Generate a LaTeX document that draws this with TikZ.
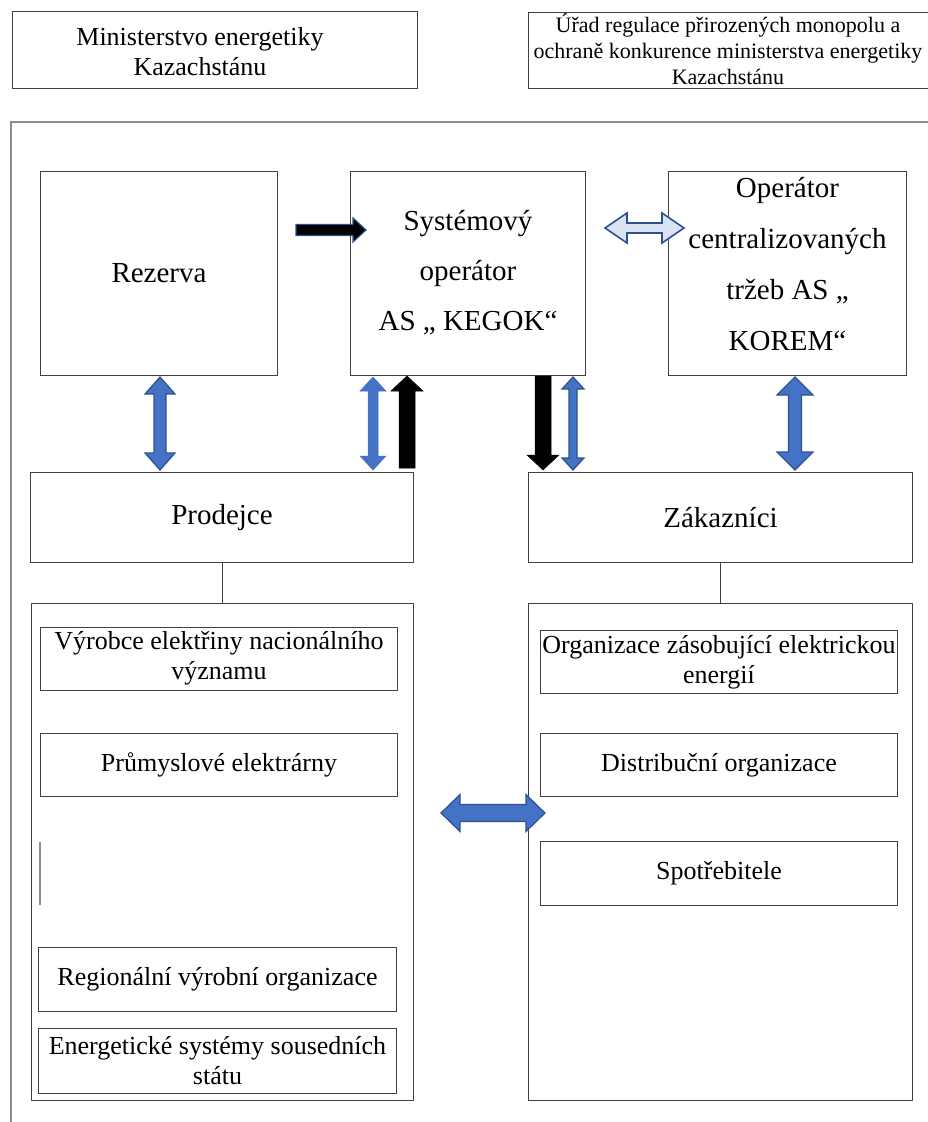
\documentclass[tikz,border=0pt]{standalone}
\usepackage{fontspec}
\setmainfont{Liberation Serif}
\definecolor{acc}{HTML}{4472C4}
\definecolor{accdark}{HTML}{2F528F}
\definecolor{acclight}{HTML}{DAE3F3}
\definecolor{frame}{HTML}{8C8C8C}
\definecolor{boxline}{HTML}{404040}
% vertical double arrow: style, x, ytop, ybot, shaft half, head half, head length
\newcommand\myVD[7]{\filldraw[#1] (#2,#3) -- ({#2+#6},{#3+#7}) -- ({#2+#5},{#3+#7}) -- ({#2+#5},{#4-#7}) -- ({#2+#6},{#4-#7}) -- (#2,#4) -- ({#2-#6},{#4-#7}) -- ({#2-#5},{#4-#7}) -- ({#2-#5},{#3+#7}) -- ({#2-#6},{#3+#7}) -- cycle;}
% horizontal double arrow: style, y, xleft, xright, shaft half, head half, head length
\newcommand\myHD[7]{\filldraw[#1] (#3,#2) -- ({#3+#7},{#2-#6}) -- ({#3+#7},{#2-#5}) -- ({#4-#7},{#2-#5}) -- ({#4-#7},{#2-#6}) -- (#4,#2) -- ({#4-#7},{#2+#6}) -- ({#4-#7},{#2+#5}) -- ({#3+#7},{#2+#5}) -- ({#3+#7},{#2+#6}) -- cycle;}
% single up arrow: style, x, ytip, ybottom, shaft half, head half, head length
\newcommand\myUp[7]{\filldraw[#1] (#2,#3) -- ({#2+#6},{#3+#7}) -- ({#2+#5},{#3+#7}) -- ({#2+#5},#4) -- ({#2-#5},#4) -- ({#2-#5},{#3+#7}) -- ({#2-#6},{#3+#7}) -- cycle;}
% single down arrow: style, x, ytop, ytip, shaft half, head half, head length
\newcommand\myDown[7]{\filldraw[#1] (#2,#4) -- ({#2+#6},{#4-#7}) -- ({#2+#5},{#4-#7}) -- ({#2+#5},#3) -- ({#2-#5},#3) -- ({#2-#5},{#4-#7}) -- ({#2-#6},{#4-#7}) -- cycle;}
% single right arrow: style, y, xstart, xtip, shaft half, head half, head length
\newcommand\myRight[7]{\filldraw[#1] (#4,#2) -- ({#4-#7},{#2-#6}) -- ({#4-#7},{#2-#5}) -- (#3,{#2-#5}) -- (#3,{#2+#5}) -- ({#4-#7},{#2+#5}) -- ({#4-#7},{#2+#6}) -- cycle;}
\begin{document}
\begin{tikzpicture}[x=1pt,y=-1pt,
  box/.style={draw=boxline, line width=1pt, anchor=north west, inner sep=0pt},
  big/.style={font=\fontsize{29}{50}\selectfont, align=center, inner sep=0pt},
  mid/.style={font=\fontsize{26}{30}\selectfont, align=center, inner sep=0pt},
  small/.style={font=\fontsize{22}{26}\selectfont, align=center, inner sep=0pt},
  link/.style={draw=boxline, line width=1pt},
  blue2/.style={fill=acc, draw=accdark, line width=1.2pt},
  bluel/.style={fill=acc, draw=acc, line width=0.5pt},
  blk/.style={fill=black, draw=black, line width=0.5pt},
  blkb/.style={fill=black, draw=accdark, line width=1.2pt},
  pale/.style={fill=acclight, draw=accdark, line width=1.6pt}]
\useasboundingbox (0,0) rectangle (928,1122);
\fill[white] (0,0) rectangle (928,1122);
% outer frame (extends beyond the picture)
\draw[frame, line width=1.4pt] (11,1140) -- (11,122) -- (945,122);
% top boxes
\node[box, minimum width=405pt, minimum height=77pt] (min) at (12,11) {};
\node[mid, font=\fontsize{26}{30}\selectfont] (mintxt) at (200,52) {Ministerstvo energetiky\\Kazachstánu};
\node[box, minimum width=420pt, minimum height=76pt] (urad) at (528,12) {};
\node[small] (uradtxt) at (728,49) {Úřad regulace přirozených monopolu a\\ochraně konkurence ministerstva energetiky\\Kazachstánu};
% upper row
\node[box, minimum width=237pt, minimum height=204pt] (rez) at (40,171) {};
\node[big] at (rez.center) {Rezerva};
\node[box, minimum width=235pt, minimum height=204pt] (sys) at (350,171) {};
\node[big] at ([yshift=1pt]sys.center) {Systémový\\operátor\\AS „ KEGOK“};
\node[box, minimum width=238pt, minimum height=204pt] (ope) at (668,171) {};
\node[big, font=\fontsize{29}{51}\selectfont] at ([yshift=9pt]ope.center) {Operátor\\centralizovaných\\tržeb AS „\\KOREM“};
% middle row
\node[box, minimum width=383pt, minimum height=90pt] (prod) at (30,472) {};
\node[big] at (prod.center) {Prodejce};
\node[box, minimum width=384pt, minimum height=90pt] (zak) at (528,472) {};
\node[big] at (zak.center) {Zákazníci};
% big lower boxes
\node[box, minimum width=382pt, minimum height=497pt] (lbig) at (31,603) {};
\node[box, minimum width=384pt, minimum height=497pt] (rbig) at (528,603) {};
\draw[link] (prod.south) -- (prod.south |- lbig.north);
\draw[link] (zak.south) -- (zak.south |- rbig.north);
% left inner boxes
\node[box, minimum width=357pt, minimum height=63pt] (vyr) at (40,627) {};
\node[mid] at ([yshift=1pt]vyr.center) {Výrobce elektřiny nacionálního\\významu};
\node[box, minimum width=357pt, minimum height=63pt] (prum) at (40,733) {};
\node[mid] at (prum.center) {Průmyslové elektrárny};
\coordinate (gapt) at (40,842);
\coordinate (gapb) at (40,905);
\draw[frame, line width=1.2pt] (gapt) -- (gapb);
\node[box, minimum width=358pt, minimum height=64pt] (reg) at (38,947) {};
\node[mid] at (reg.center) {Regionální výrobní organizace};
\node[box, minimum width=358pt, minimum height=65pt] (ene) at (38,1028) {};
\node[mid] at (ene.center) {Energetické systémy sousedních\\státu};
% right inner boxes
\node[box, minimum width=357pt, minimum height=63pt] (org) at (540,630) {};
\node[mid] at (org.center) {Organizace zásobující elektrickou\\energií};
\node[box, minimum width=357pt, minimum height=63pt] (dis) at (540,733) {};
\node[mid] at (dis.center) {Distribuční organizace};
\node[box, minimum width=357pt, minimum height=64pt] (spo) at (540,841) {};
\node[mid] at (spo.center) {Spotřebitele};
% block arrows
\myRight{blkb}{230}{296}{366}{5.5}{12}{13}
\myHD{pale}{228}{605}{684}{5}{15}{22}
\myVD{blue2}{160}{377}{470}{6}{15}{17}
\myVD{bluel}{373}{377}{470}{5}{13}{14}
\myUp{blk}{407}{376}{468}{8}{16}{15}
\myDown{blk}{543}{376}{470}{8}{16}{15}
\myVD{blue2}{573}{377}{470}{4}{11}{12}
\myVD{blue2}{795}{377}{470}{6.5}{18}{18}
\myHD{blue2}{813}{441}{545}{8.5}{18.5}{19}
\end{tikzpicture}
\end{document}
